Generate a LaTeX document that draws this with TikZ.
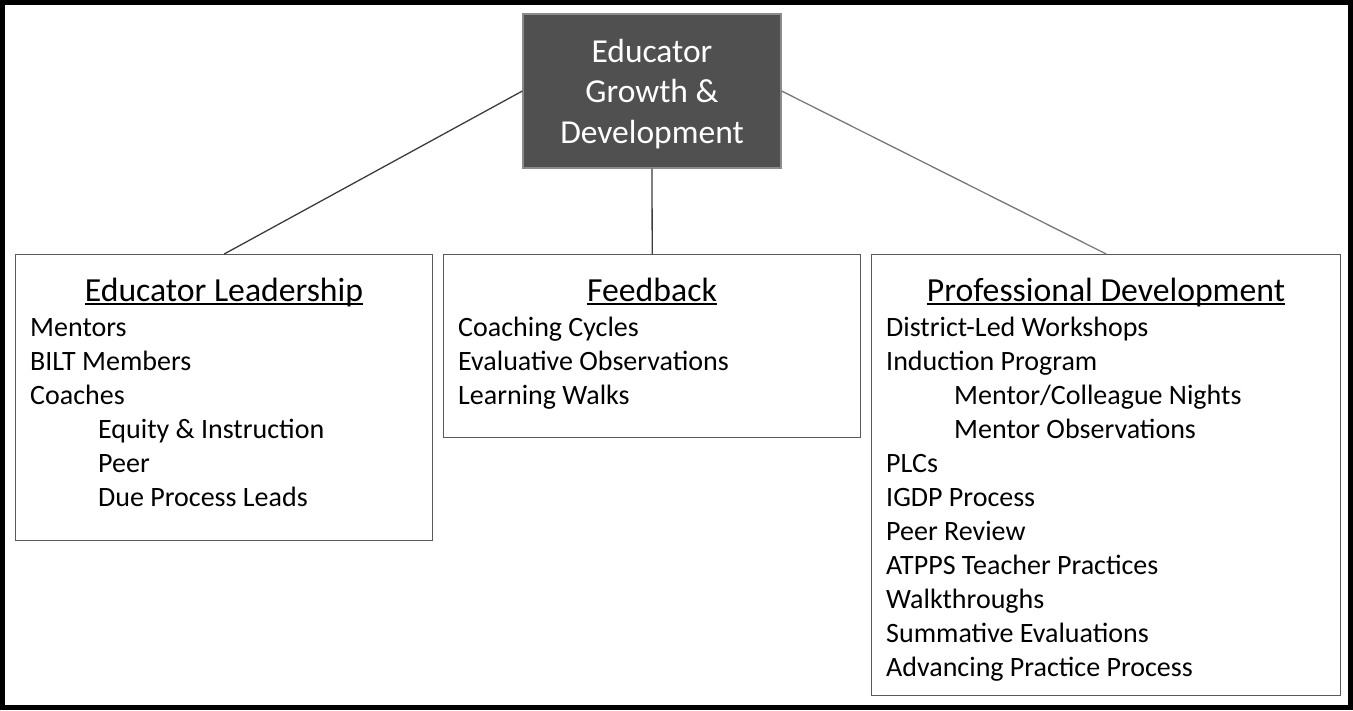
\documentclass[tikz,border=0pt]{standalone}
\usepackage{fontspec}
\setmainfont{Carlito}
\usetikzlibrary{calc}
\definecolor{rootfill}{RGB}{80,80,80}
\definecolor{rootborder}{RGB}{140,140,140}
\definecolor{boxborder}{RGB}{90,90,90}
\definecolor{linkdark}{RGB}{60,60,60}
\definecolor{linklight}{RGB}{120,120,120}
\begin{document}
\begin{tikzpicture}[x=1pt,y=-1pt,
  rootbox/.style={fill=rootfill,draw=rootborder,line width=1.2pt,minimum width=258pt,minimum height=154pt,inner sep=0pt},
  roottext/.style={text=white,align=center,inner sep=0pt,font=\fontsize{33.5}{40.7}\selectfont},
  catbox/.style={draw=boxborder,line width=1.4pt,anchor=north west,inner sep=0pt},
  cattitle/.style={anchor=base,inner sep=0pt,font=\fontsize{33.7}{40}\selectfont},
  item/.style={anchor=base west,inner sep=0pt,font=\fontsize{28}{34}\selectfont},
  uline/.style={line width=1.6pt},
  link/.style={line width=1.3pt}]
\useasboundingbox (0,0) rectangle (1353,710);
\draw[line width=5pt] (2.5,2.5) rectangle (1350.5,707.5);

\node[rootbox] (root) at (652,91) {};
\node[roottext] (rootT) at (652,94) {Educator\\Growth \&\\Development};

\node[catbox,minimum width=417pt,minimum height=286pt] (lead) at (15,254) {};
\node[catbox,minimum width=417pt,minimum height=183pt] (fb) at (443,254) {};
\node[catbox,minimum width=469pt,minimum height=441pt] (pd) at (871,254) {};

\draw[link,draw=linkdark] (root.west) -- (lead.north);
\draw[link,draw=linkdark] (root.south) -- (fb.north);
\draw[link,draw=linklight] (root.east) -- (pd.north);

% Educator Leadership
\node[cattitle] (leadT) at (224,301) {Educator Leadership};
\draw[uline] ($(leadT.base west)+(0,3)$) -- ($(leadT.base east)+(0,3)$);
\node[item] (l1) at (30,336) {Mentors};
\node[item] (l2) at (30,370) {BILT Members};
\node[item] (l3) at (30,404) {Coaches};
\node[item] (l4) at (98,438) {Equity \& Instruction};
\node[item] (l5) at (98,472) {Peer};
\node[item] (l6) at (98,506) {Due Process Leads};

% Feedback
\node[cattitle] (fbT) at (652,301) {Feedback};
\draw[uline] ($(fbT.base west)+(0,3)$) -- ($(fbT.base east)+(0,3)$);
\node[item] (f1) at (458,336) {Coaching Cycles};
\node[item] (f2) at (458,370) {Evaluative Observations};
\node[item] (f3) at (458,404) {Learning Walks};

% Professional Development
\node[cattitle] (pdT) at (1106,301) {Professional Development};
\draw[uline] ($(pdT.base west)+(0,3)$) -- ($(pdT.base east)+(0,3)$);
\node[item] (p1) at (886,336) {District-Led Workshops};
\node[item] (p2) at (886,370) {Induction Program};
\node[item] (p3) at (954,404) {Mentor/Colleague Nights};
\node[item] (p4) at (954,438) {Mentor Observations};
\node[item] (p5) at (886,472) {PLCs};
\node[item] (p6) at (886,506) {IGDP Process};
\node[item] (p7) at (886,540) {Peer Review};
\node[item] (p8) at (886,574) {ATPPS Teacher Practices};
\node[item] (p9) at (886,608) {Walkthroughs};
\node[item] (p10) at (886,642) {Summative Evaluations};
\node[item] (p11) at (886,676) {Advancing Practice Process};
\end{tikzpicture}
\end{document}
